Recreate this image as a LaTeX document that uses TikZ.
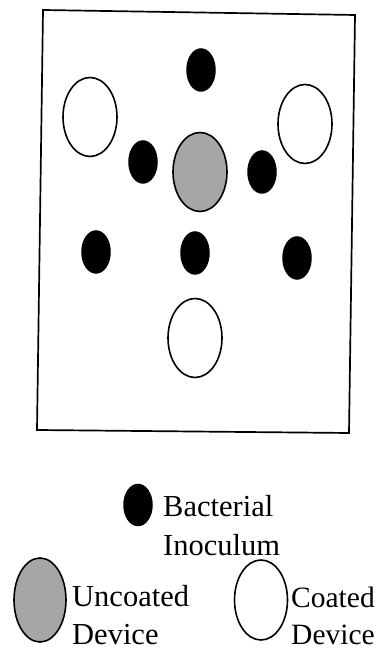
\documentclass[tikz,border=0pt]{standalone}
\usepackage{fontspec}
\setmainfont{Liberation Serif}
\usetikzlibrary{shapes.geometric}
\begin{document}
\begin{tikzpicture}[x=1pt,y=1pt,
  small/.style={ellipse,draw=black,fill=black,line width=1.5pt,inner sep=0pt,minimum width=28pt,minimum height=42pt},
  device/.style={ellipse,draw=black,line width=1.6pt,inner sep=0pt,minimum width=54pt,minimum height=79pt},
  uncoated/.style={device,fill=black!35},
  coated/.style={device,fill=white},
  lbl/.style={anchor=base west,inner sep=0pt,font=\fontsize{30.5}{39}\selectfont},
  lbls/.style={lbl,font=\fontsize{29.5}{39}\selectfont}
]
\useasboundingbox (0,0) rectangle (379,652);
\clip (0,0) rectangle (379,652);
% plate
\draw[line width=1.7pt,line join=miter] (43,642) -- (355,637) -- (349,219) -- (37,222) -- cycle;
% plate contents
\node[small]    (b1) at (201,582) {};
\node[coated]   (c1) at (90,535) {};
\node[coated]   (c2) at (305,528) {};
\node[small]    (b2) at (143,490) {};
\node[uncoated] (u1) at (200,480) {};
\node[small]    (b3) at (262,480) {};
\node[small]    (b4) at (96,400) {};
\node[small]    (b5) at (195,399) {};
\node[small]    (b6) at (297,394) {};
\node[coated]   (c3) at (195,314) {};
% legend
\node[small,minimum height=41pt] (lb) at (138,147) {};
\node[lbl] (lbt1) at (163,135) {Bacterial};
\node[lbl] (lbt2) at (163,96) {Inoculum};
\node[uncoated,minimum width=52pt,minimum height=84pt] (lu) at (40,52) {};
\node[lbl] (lut1) at (72,45) {Uncoated};
\node[lbl] (lut2) at (72,7) {Device};
\node[coated,minimum width=53pt,minimum height=80pt] (lc) at (261,52) {};
\node[lbls] (lct1) at (291,44) {Coated};
\node[lbls] (lct2) at (291,7) {Device};
\end{tikzpicture}
\end{document}
